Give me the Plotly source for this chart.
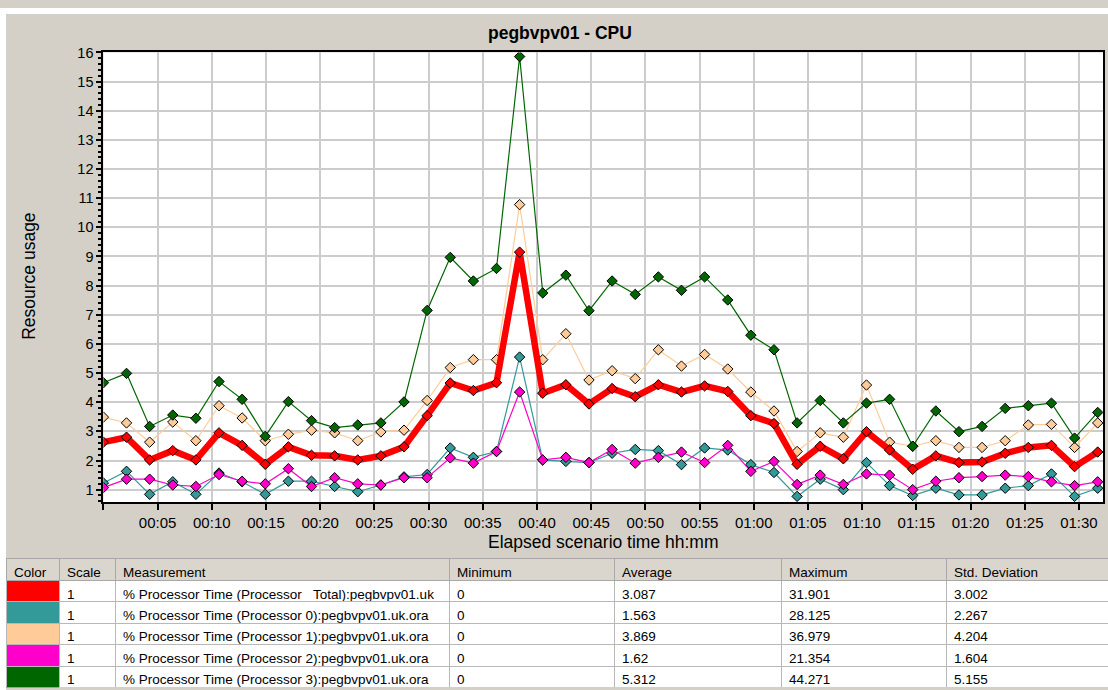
import plotly.graph_objects as go

# ---------------- data ----------------
elapsed = ["00:00:00", "00:02:08", "00:04:16", "00:06:24", "00:08:32", "00:10:40", "00:12:48", "00:14:56",
           "00:17:04", "00:19:12", "00:21:20", "00:23:28", "00:25:36", "00:27:44", "00:29:52", "00:32:00",
           "00:34:08", "00:36:16", "00:38:24", "00:40:32", "00:42:40", "00:44:48", "00:46:56", "00:49:04",
           "00:51:12", "00:53:20", "00:55:28", "00:57:36", "00:59:44", "01:01:52", "01:04:00", "01:06:08",
           "01:08:16", "01:10:24", "01:12:32", "01:14:40", "01:16:48", "01:18:56", "01:21:04", "01:23:12",
           "01:25:20", "01:27:28", "01:29:36", "01:31:44"]

total = [2.63, 2.80, 2.02, 2.34, 2.02, 2.95, 2.52, 1.87, 2.47, 2.18, 2.16, 2.02, 2.16, 2.47, 3.54, 4.66,
         4.40, 4.67, 9.15, 4.31, 4.60, 3.94, 4.47, 4.19, 4.60, 4.35, 4.56, 4.37, 3.54, 3.27, 1.87,
         2.49, 2.06, 2.99, 2.36, 1.70, 2.16, 1.93, 1.95, 2.25, 2.45, 2.52, 1.79, 2.29]
proc0 = [1.23, 1.63, 0.84, 1.27, 0.84, 1.57, 1.27, 0.84, 1.29, 1.29, 1.11, 0.93, 1.16, 1.44, 1.52, 2.43,
         2.11, 2.31, 5.55, 2.02, 1.97, 1.93, 2.25, 2.38, 2.34, 1.86, 2.43, 2.36, 1.86, 1.59, 0.77,
         1.36, 1.00, 1.93, 1.14, 0.80, 1.05, 0.82, 0.82, 1.05, 1.14, 1.54, 0.77, 1.05]
proc1 = [3.49, 3.29, 2.63, 3.32, 2.68, 3.88, 3.46, 2.68, 2.90, 3.04, 2.95, 2.68, 2.98, 3.04, 4.06, 5.19,
         5.46, 5.46, 10.78, 5.46, 6.35, 4.76, 5.08, 4.81, 5.80, 5.24, 5.64, 5.14, 4.35, 3.70, 2.31,
         2.95, 2.80, 4.59, 2.63, 2.49, 2.68, 2.45, 2.45, 2.68, 3.22, 3.24, 2.45, 3.29]
proc2 = [1.07, 1.36, 1.36, 1.16, 1.11, 1.52, 1.29, 1.20, 1.72, 1.11, 1.41, 1.20, 1.16, 1.41, 1.41, 2.09,
         1.91, 2.31, 4.35, 2.02, 2.11, 1.93, 2.38, 1.91, 2.11, 2.29, 1.93, 2.52, 1.63, 1.97, 1.18,
         1.50, 1.18, 1.54, 1.50, 1.00, 1.29, 1.41, 1.45, 1.50, 1.45, 1.27, 1.14, 1.27]
proc3 = [4.67, 4.99, 3.17, 3.56, 3.45, 4.71, 4.10, 2.83, 4.02, 3.37, 3.13, 3.22, 3.29, 4.01, 7.15, 8.97,
         8.16, 8.59, 15.86, 7.75, 8.36, 7.14, 8.16, 7.70, 8.30, 7.84, 8.30, 7.51, 6.30, 5.80, 3.29,
         4.06, 3.29, 3.97, 4.10, 2.49, 3.70, 2.99, 3.17, 3.79, 3.88, 3.97, 2.77, 3.65]

tick_minutes = [0, 5, 10, 15, 20, 25, 30, 35, 40, 45, 50, 55, 60, 65, 70, 75, 80, 85, 90]
tick_labels = ["", "00:05", "00:10", "00:15", "00:20", "00:25", "00:30", "00:35", "00:40", "00:45",
               "00:50", "00:55", "01:00", "01:05", "01:10", "01:15", "01:20", "01:25", "01:30"]
y_ticks = list(range(1, 17))

# table data
table_header = ["Color", "Scale", "Measurement", "Minimum", "Average", "Maximum", "Std. Deviation"]
measurements = ["% Processor Time (Processor _Total):pegbvpv01.uk",
                "% Processor Time (Processor 0):pegbvpv01.uk.ora",
                "% Processor Time (Processor 1):pegbvpv01.uk.ora",
                "% Processor Time (Processor 2):pegbvpv01.uk.ora",
                "% Processor Time (Processor 3):pegbvpv01.uk.ora"]
scales = ["1", "1", "1", "1", "1"]
minimums = ["0", "0", "0", "0", "0"]
averages = ["3.087", "1.563", "3.869", "1.62", "5.312"]
maximums = ["31.901", "28.125", "36.979", "21.354", "44.271"]
std_devs = ["3.002", "2.267", "4.204", "1.604", "5.155"]

# ---------------- styles ----------------
C_TOTAL, C_P0, C_P1, C_P2, C_P3 = "#FF0000", "#339999", "#FFCC99", "#FF00CC", "#006600"
BG = "#D4D0C8"
W, H = 1108, 690
FONT = "Liberation Sans, Arial"
NB = "\u00a0"


def to_min(s):
    h, m, sec = (int(p) for p in s.split(":"))
    return h * 60 + m + sec / 60.0


def nowrap(items):
    return [s.replace(" ", NB) for s in items]


x_min = [to_min(s) for s in elapsed]

fig = go.Figure()

series = [(proc0, C_P0, 1.2), (proc1, C_P1, 1.2), (proc2, C_P2, 1.2), (proc3, C_P3, 1.2), (total, C_TOTAL, 6.5)]
for vals, col, lw in series:
    fig.add_trace(go.Scatter(
        x=x_min, y=vals, mode="lines+markers",
        line=dict(color=col, width=lw),
        marker=dict(symbol="diamond", size=8, color=col, line=dict(color="black", width=1)),
        hoverinfo="skip", showlegend=False, cliponaxis=True,
    ))

# table
fig.add_trace(go.Table(
    domain=dict(x=[6 / W, 1.0], y=[1 - 688 / H, 1 - 557 / H]),
    columnwidth=[53, 56, 334, 165, 167, 165, 162],
    header=dict(values=nowrap(table_header), align="left", height=22,
                fill=dict(color="#DAD6CE"), line=dict(color="#A8A8A8", width=1),
                font=dict(family=FONT, size=13.5, color="black")),
    cells=dict(values=[["", "", "", "", ""], scales, nowrap(measurements), minimums, averages, maximums, std_devs],
               align="left", height=21.4,
               fill=dict(color=[[C_TOTAL, C_P0, C_P1, C_P2, C_P3]] + [["white"] * 5] * 6),
               line=dict(color="#B8B8B8", width=1),
               font=dict(family=FONT, size=13.5, color="black")),
))

x0p, x1p = 103.4 / W, 1103.3 / W
y0p, y1p = 1 - 500 / H, 1 - 45 / H

fig.update_layout(
    width=W, height=H,
    margin=dict(l=0, r=0, t=0, b=0),
    paper_bgcolor=BG, plot_bgcolor="white",
    font=dict(family=FONT, color="black"),
    xaxis=dict(domain=[x0p, x1p], range=[0, 92.25], tickmode="array",
               tickvals=tick_minutes, ticktext=tick_labels,
               ticks="outside", ticklen=6, tickwidth=2, tickcolor="black",
               showgrid=True, gridcolor="#CCCCCC", gridwidth=1.5,
               showline=True, linecolor="black", linewidth=2, mirror=True,
               zeroline=False, tickfont=dict(size=15)),
    yaxis=dict(domain=[y0p, y1p], range=[0.57, 16], tickmode="array", tickvals=y_ticks,
               ticks="outside", ticklen=5, tickwidth=1.5, tickcolor="black",
               minor=dict(dtick=0.2, tick0=0, ticks="outside", ticklen=3, tickcolor="black", showgrid=False),
               showgrid=True, gridcolor="#CCCCCC", gridwidth=1.5,
               showline=True, linecolor="black", linewidth=2, mirror=True,
               zeroline=False, tickfont=dict(size=14.5)),
    shapes=[
        dict(type="rect", xref="paper", yref="paper", x0=0, x1=6 / W, y0=0, y1=1,
             fillcolor="white", line=dict(width=0)),
        dict(type="rect", xref="paper", yref="paper", x0=0, x1=1, y0=1 - 6 / H, y1=1,
             fillcolor="white", line=dict(width=0)),
    ],
    annotations=[
        dict(text="<b>pegbvpv01 - CPU</b>", xref="paper", yref="paper", x=560 / W, y=1 - 25 / H,
             showarrow=False, xanchor="center", yanchor="middle", font=dict(size=17.5)),
        dict(text="Elapsed scenario time hh:mm", xref="paper", yref="paper", x=603 / W, y=1 - 540 / H,
             showarrow=False, xanchor="center", yanchor="middle", font=dict(size=17.5)),
        dict(text="Resource usage", xref="paper", yref="paper", x=29 / W, y=1 - 272 / H,
             showarrow=False, xanchor="center", yanchor="middle", textangle=-90, font=dict(size=17.5)),
    ],
)

fig.write_html(
    "out.html",
    config={"displayModeBar": False},
    post_script="document.body.style.margin='0';document.body.style.padding='0';"
                "document.body.style.overflow='hidden';document.documentElement.style.overflow='hidden';",
)
